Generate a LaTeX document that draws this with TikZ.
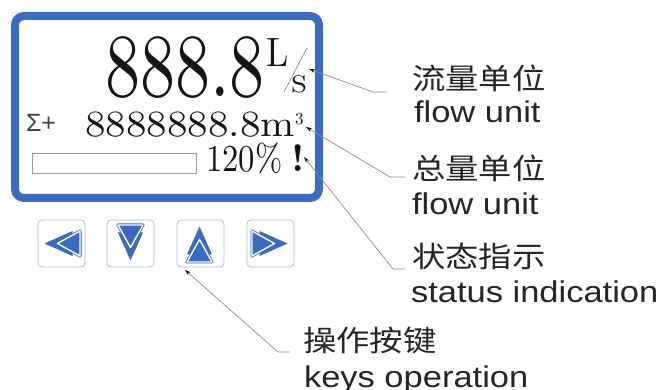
\documentclass[tikz,border=0pt]{standalone}
\usepackage{fontspec}
\usepackage{graphicx}
\newfontfamily\sansf{Liberation Sans}
\newfontfamily\cjk{Noto Sans CJK SC}
\newfontfamily\lmten{lmroman10-regular}[Extension=.otf, BoldFont=lmroman10-bold]
\usetikzlibrary{arrows.meta}
\definecolor{frameblue}{HTML}{3B6CC0}
\definecolor{keyblue}{HTML}{3A6BC0}
\definecolor{keyedge}{HTML}{A3BBE2}
\definecolor{ink}{HTML}{151515}
\definecolor{leadgray}{HTML}{8C8C8C}
\begin{document}
\begin{tikzpicture}[x=1pt,y=-1pt,
  txt/.style={inner sep=0pt, outer sep=0pt, text=ink, font=\lmten},
  label/.style={inner sep=0pt, outer sep=0pt, anchor=base west, text=black!85},
  keybox/.style={draw=keyedge, line width=0.8pt, rounded corners=4pt, minimum size=47pt, inner sep=0pt, fill=white},
  leader/.style={draw=leadgray, line width=0.7pt, -{Stealth[length=6pt,width=3.6pt,color=black]}},
  keyicon/.pic={
    \fill[keyblue] (0,-17) -- (12.5,11) -- (-12.5,11) -- cycle;
    \draw[keyblue, line width=3pt, line join=round] (0,-4) -- (12.5,18.5) -- (-12.5,18.5) -- cycle;
    \filldraw[fill=keyblue, draw=white, line width=1.4pt, line join=round] (0,-4) -- (12.5,18.5) -- (-12.5,18.5) -- cycle;
  }]
\useasboundingbox (0,0) rectangle (667,390);
\fill[white] (0,0) rectangle (667,390);

% screen frame
\node[draw=frameblue, line width=8pt, rounded corners=9pt, minimum width=304pt, minimum height=182pt, inner sep=0pt] (screen) at (167,107) {};

% display contents
\node[txt, anchor=base east] (big) at (265,97) {\fontsize{90}{90}\selectfont\scalebox{0.78}[1]{888.8}};
\node[txt, anchor=base west] (unitL) at (266,67) {\fontsize{41}{41}\selectfont\scalebox{0.87}[1]{L}};
\node[txt, anchor=base west] (unitS) at (291,93) {\fontsize{24}{24}\selectfont\scalebox{1.2}[1]{S}};
\coordinate (slashA) at (284,92);
\coordinate (slashB) at (307,48);
\draw[gray, line width=0.6pt] (slashA) -- (slashB);

\node[txt, anchor=base west, text=black!75, font=\sansf] (sigma) at (26,132) {\fontsize{25}{25}\selectfont Σ+};
\node[txt, anchor=base west] (total) at (85,137) {\fontsize{37}{37}\selectfont\scalebox{1.11}[1]{8888888.8m}};
\node[txt, anchor=base west] (cube) at (295,125) {\fontsize{17}{17}\selectfont 3};

\node[draw=gray!80, line width=0.8pt, minimum width=164pt, minimum height=20pt, inner sep=0pt] (bar) at (114,163) {};
\node[txt, anchor=base west] (pct) at (206,172) {\fontsize{38}{38}\selectfont\scalebox{0.86}[1]{120\%}};
\node[txt, anchor=base west] (excl) at (291,172) {\fontsize{38}{38}\selectfont\bfseries !};

% keys
\node[keybox] (k1) at (61.5,243.5) {};
\node[keybox] (k2) at (130.5,243.5) {};
\node[keybox] (k3) at (200.5,243.5) {};
\node[keybox] (k4) at (270.5,243.5) {};
\pic[rotate=90] at (k1.center) {keyicon};
\pic[rotate=180] at (k2.center) {keyicon};
\pic at ([xshift=-1pt]k3.center) {keyicon};
\pic[rotate=-90] at (k4.center) {keyicon};

% labels
\node[label] (l1a) at (412,90) {\cjk\fontsize{29}{29}\selectfont\scalebox{1.15}[1]{流量单位}};
\node[label] (l1b) at (414,123) {\sansf\fontsize{30}{30}\selectfont\scalebox{1.15}[1]{flow unit}};
\node[label] (l2a) at (412,180) {\cjk\fontsize{29}{29}\selectfont\scalebox{1.15}[1]{总量单位}};
\node[label] (l2b) at (412,215) {\sansf\fontsize{30}{30}\selectfont\scalebox{1.15}[1]{flow unit}};
\node[label] (l3a) at (412,268) {\cjk\fontsize{29}{29}\selectfont\scalebox{1.15}[1]{状态指示}};
\node[label] (l3b) at (411,302) {\sansf\fontsize{30}{30}\selectfont\scalebox{1.15}[1]{status indication}};
\node[label] (l4a) at (303,351) {\cjk\fontsize{29}{29}\selectfont\scalebox{1.15}[1]{操作按键}};
\node[label] (l4b) at (304,387) {\sansf\fontsize{30}{30}\selectfont\scalebox{1.15}[1]{keys operation}};

% leaders
\coordinate (t1) at (309,69);  \coordinate (b1) at (373,92);  \coordinate (e1) at (387,92);
\coordinate (t2) at (306,127); \coordinate (b2) at (390,177); \coordinate (e2) at (405,177);
\coordinate (t3) at (304,157); \coordinate (b3) at (393,269); \coordinate (e3) at (405,269);
\coordinate (t4) at (185,270); \coordinate (b4) at (278,352); \coordinate (e4) at (290,352);
\draw[leader] (e1) -- (b1) -- (t1);
\draw[leader] (e2) -- (b2) -- (t2);
\draw[leader] (e3) -- (b3) -- (t3);
\draw[leader] (e4) -- (b4) -- (t4);
\end{tikzpicture}
\end{document}
